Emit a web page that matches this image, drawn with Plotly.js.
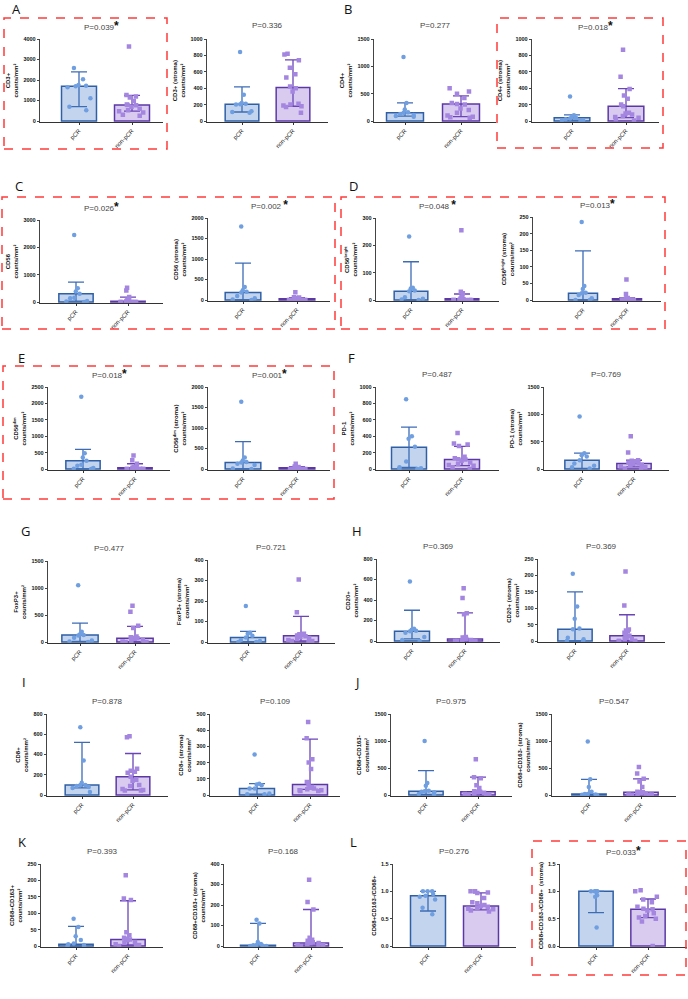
<!DOCTYPE html>
<html><head><meta charset="utf-8">
<script src="https://cdn.plot.ly/plotly-3.0.1.min.js"></script>
<style>html,body{margin:0;padding:0;background:#fff}#chart{width:688px;height:999px}</style>
</head><body><div id="chart"></div>
<script>
const groups = ['pCR', 'non-pCR'];

// ---- data. stats = [[median, q1, q3] pCR, [median, q1, q3] non-pCR]
const cd3_pcr = [2580, 2040, 1760, 1720, 1700, 1650, 1110, 700, 520];
const cd3_non = [3640, 1270, 1200, 1150, 980, 800, 780, 770, 700, 600, 530, 480, 420, 300, 250];
const cd3_stats = [[1700, 700, 2400], [780, 480, 1250]];

const cd3s_pcr = [840, 320, 220, 210, 205, 200, 120, 110, 100];
const cd3s_non = [820, 810, 740, 650, 570, 530, 420, 400, 360, 210, 200, 190, 180, 170, 100];
const cd3s_stats = [[205, 110, 415], [410, 180, 745]];

const cd4_pcr = [1170, 330, 210, 160, 150, 130, 110, 90, 80];
const cd4_non = [600, 540, 500, 420, 330, 310, 300, 230, 200, 150, 100, 80, 70, 60];
const cd4_stats = [[150, 90, 330], [310, 80, 460]];

const cd4s_pcr = [300, 70, 50, 40, 30, 20, 10, 5, 0];
const cd4s_non = [870, 540, 390, 310, 270, 200, 180, 100, 90, 80, 60, 50, 40, 20, 5];
const cd4s_stats = [[40, 10, 75], [180, 40, 395]];

const cd56_pcr = [2450, 500, 380, 300, 160, 140, 40, 20, 0];
const cd56_non = [520, 420, 180, 80, 60, 40, 30, 20, 10, 5, 0, 0, 0, 0, 0];
const cd56_stats = [[300, 30, 730], [30, 0, 180]];

const cd56s_pcr = [1790, 320, 240, 200, 180, 100, 40, 10, 0];
const cd56s_non = [190, 70, 60, 50, 40, 30, 30, 20, 10, 5, 0, 0, 0, 0, 0];
const cd56s_stats = [[180, 0, 900], [30, 0, 60]];

const cd56b_pcr = [232, 45, 42, 35, 32, 10, 5, 2, 0];
const cd56b_non = [255, 30, 25, 12, 10, 5, 5, 3, 2, 0, 0, 0, 0, 0, 0];
const cd56b_stats = [[32, 0, 140], [5, 0, 22]];

const cd56bs_pcr = [235, 42, 33, 22, 20, 15, 5, 0, 0];
const cd56bs_non = [62, 18, 6, 5, 4, 4, 3, 2, 1, 0, 0, 0, 0, 0, 0];
const cd56bs_stats = [[20, 0, 148], [4, 0, 6]];

const cd56d_pcr = [2200, 480, 350, 250, 130, 100, 30, 10, 0];
const cd56d_non = [410, 270, 160, 60, 50, 40, 40, 30, 20, 10, 5, 0, 0, 0, 0];
const cd56d_stats = [[250, 0, 600], [40, 0, 160]];

const cd56ds_pcr = [1640, 280, 210, 170, 160, 130, 100, 10, 0];
const cd56ds_non = [130, 60, 50, 40, 30, 30, 20, 10, 5, 0, 0, 0, 0, 0, 0];
const cd56ds_stats = [[160, 0, 670], [30, 0, 60]];

const pd1_pcr = [850, 400, 370, 270, 90, 20, 10, 0, 0];
const pd1_non = [440, 310, 300, 280, 150, 130, 120, 115, 100, 80, 60, 50, 40, 20, 0];
const pd1_stats = [[265, 20, 510], [115, 40, 275]];

const pd1s_pcr = [960, 290, 250, 230, 160, 100, 60, 30, 10];
const pd1s_non = [600, 300, 160, 150, 140, 120, 100, 100, 90, 80, 60, 50, 30, 10, 0];
const pd1s_stats = [[160, 10, 290], [100, 40, 160]];

const foxp3_pcr = [1050, 190, 140, 130, 120, 80, 30, 10, 0];
const foxp3_non = [670, 560, 300, 260, 100, 90, 80, 70, 60, 40, 20, 10, 0, 0, 0];
const foxp3_stats = [[130, 10, 350], [70, 0, 290]];

const foxp3s_pcr = [175, 45, 40, 30, 22, 10, 5, 0, 0];
const foxp3s_non = [305, 145, 40, 38, 35, 32, 30, 28, 25, 20, 15, 10, 5, 5, 0];
const foxp3s_stats = [[22, 0, 52], [30, 5, 125]];

const cd20_pcr = [580, 120, 110, 100, 95, 80, 40, 10, 0];
const cd20_non = [515, 420, 270, 260, 40, 35, 30, 20, 20, 10, 5, 0, 0, 0, 0];
const cd20_stats = [[95, 20, 300], [20, 0, 275]];

const cd20s_pcr = [205, 105, 68, 38, 36, 10, 5, 0, 0];
const cd20s_non = [212, 108, 35, 32, 30, 25, 20, 16, 10, 5, 5, 0, 0, 0, 0];
const cd20s_stats = [[36, 0, 150], [16, 0, 80]];

const cd8_pcr = [670, 340, 120, 100, 100, 90, 80, 70, 30];
const cd8_non = [580, 570, 260, 240, 230, 220, 180, 150, 140, 100, 90, 60, 50, 45, 45];
const cd8_stats = [[100, 70, 520], [180, 50, 410]];

const cd8s_pcr = [250, 70, 65, 60, 40, 40, 10, 5, 5];
const cd8s_non = [450, 350, 220, 200, 160, 80, 65, 50, 45, 40, 35, 30, 30, 25, 25];
const cd8s_stats = [[40, 5, 70], [65, 35, 345]];

const m1_pcr = [1000, 220, 170, 80, 70, 60, 50, 20, 10];
const m1_non = [660, 330, 310, 180, 130, 70, 60, 60, 50, 40, 30, 20, 10, 5, 5];
const m1_stats = [[70, 10, 450], [60, 10, 330]];

const m1s_pcr = [990, 290, 150, 60, 20, 20, 10, 5, 0];
const m1s_non = [520, 400, 300, 250, 150, 60, 50, 50, 40, 30, 20, 10, 10, 5, 5];
const m1s_stats = [[20, 0, 290], [50, 10, 300]];

const m2_pcr = [83, 58, 30, 18, 8, 5, 3, 0, 0];
const m2_non = [216, 145, 140, 42, 33, 25, 22, 20, 18, 12, 10, 5, 3, 0, 0];
const m2_stats = [[5, 0, 60], [20, 3, 138]];

const m2s_pcr = [128, 110, 20, 10, 5, 4, 3, 0, 0];
const m2s_non = [323, 215, 178, 40, 30, 25, 20, 18, 15, 15, 10, 5, 5, 0, 0];
const m2s_stats = [[4, 0, 110], [15, 5, 178]];

const ratio_pcr = [1.0, 1.0, 1.0, 0.95, 0.92, 0.9, 0.85, 0.7, 0.58];
const ratio_non = [1.0, 1.0, 0.98, 0.97, 0.88, 0.8, 0.78, 0.75, 0.73, 0.72, 0.7, 0.68, 0.67, 0.65, 0.63];
const ratio_stats = [[0.92, 0.64, 1.0], [0.73, 0.66, 0.97]];

const ratios_pcr = [1, 1, 1, 1, 1, 1, 0.93, 0.9, 0.34];
const ratios_non = [1.02, 1.0, 0.9, 0.85, 0.8, 0.72, 0.68, 0.67, 0.65, 0.6, 0.55, 0.52, 0.5, 0.45, 0.0];
const ratios_stats = [[1.0, 0.61, 1.0], [0.67, 0.52, 0.86]];

const pvalues = ['P=0.039', 'P=0.336', 'P=0.277', 'P=0.018', 'P=0.026', 'P=0.002 ', 'P=0.048 ', 'P=0.013',
  'P=0.018', 'P=0.001', 'P=0.487', 'P=0.769', 'P=0.477', 'P=0.721', 'P=0.369', 'P=0.369',
  'P=0.878', 'P=0.109', 'P=0.975', 'P=0.547', 'P=0.393', 'P=0.168', 'P=0.276', 'P=0.033'];
const significant = [1, 0, 0, 1, 1, 1, 1, 1, 1, 1, 0, 0, 0, 0, 0, 0, 0, 0, 0, 0, 0, 0, 0, 1];

const C2 = 'counts/mm²';
const sup = t => '<span style="font-size:4px;baseline-shift:super">' + t + '</span>';
// g = [axisLeftPx, axisRightPx, pCRcenterPx, nonCenterPx, topPx, zeroPx]
const panels = [
  {pcr: cd3_pcr, non: cd3_non, st: cd3_stats, yt: 'CD3+<br>' + C2, ymax: 4000, dtick: 1000, g: [40, 163, 79, 132, 39, 121]},
  {pcr: cd3s_pcr, non: cd3s_non, st: cd3s_stats, yt: 'CD3+ (stroma)<br>' + C2, ymax: 1000, dtick: 200, g: [207, 328, 242, 293, 39, 121]},
  {pcr: cd4_pcr, non: cd4_non, st: cd4_stats, yt: 'CD4+<br>' + C2, ymax: 1500, dtick: 500, g: [374, 496, 405, 461, 39, 121]},
  {pcr: cd4s_pcr, non: cd4s_non, st: cd4s_stats, yt: 'CD4+ (stroma)<br>' + C2, ymax: 1000, dtick: 200, g: [532, 659, 572, 626, 39, 121]},
  {pcr: cd56_pcr, non: cd56_non, st: cd56_stats, yt: 'CD56<br>' + C2, ymax: 3000, dtick: 1000, g: [40, 163, 76, 128, 220, 302]},
  {pcr: cd56s_pcr, non: cd56s_non, st: cd56s_stats, yt: 'CD56 (stroma)<br>' + C2, ymax: 2000, dtick: 500, g: [208, 330, 243, 297, 218, 300]},
  {pcr: cd56b_pcr, non: cd56b_non, st: cd56b_stats, yt: 'CD56' + sup('bright') + '<br>' + C2, ymax: 300, dtick: 100, g: [376, 499, 411, 462, 218, 300]},
  {pcr: cd56bs_pcr, non: cd56bs_non, st: cd56bs_stats, yt: 'CD56' + sup('bright') + ' (stroma)<br>' + C2, ymax: 250, dtick: 50, g: [533, 661, 583, 627, 217, 300]},
  {pcr: cd56d_pcr, non: cd56d_non, st: cd56d_stats, yt: 'CD56' + sup('dim') + '<br>' + C2, ymax: 2500, dtick: 500, g: [48, 170, 83, 135, 387, 469]},
  {pcr: cd56ds_pcr, non: cd56ds_non, st: cd56ds_stats, yt: 'CD56' + sup('dim') + ' (stroma)<br>' + C2, ymax: 2000, dtick: 500, g: [208, 330, 243, 297, 387, 469]},
  {pcr: pd1_pcr, non: pd1_non, st: pd1_stats, yt: 'PD-1<br>' + C2, ymax: 1000, dtick: 200, g: [376, 499, 409, 462, 387, 469]},
  {pcr: pd1s_pcr, non: pd1s_non, st: pd1s_stats, yt: 'PD-1 (stroma)<br>' + C2, ymax: 1500, dtick: 500, g: [544, 669, 582, 634, 387, 469]},
  {pcr: foxp3_pcr, non: foxp3_non, st: foxp3_stats, yt: 'FoxP3+<br>' + C2, ymax: 1500, dtick: 500, g: [48, 170, 80, 135, 561, 642]},
  {pcr: foxp3s_pcr, non: foxp3s_non, st: foxp3s_stats, yt: 'FoxP3+ (stroma)<br>' + C2, ymax: 400, dtick: 100, g: [208, 335, 248, 301, 560, 642]},
  {pcr: cd20_pcr, non: cd20_non, st: cd20_stats, yt: 'CD20+<br>' + C2, ymax: 800, dtick: 200, g: [377, 500, 412, 465, 559, 641]},
  {pcr: cd20s_pcr, non: cd20s_non, st: cd20s_stats, yt: 'CD20+ (stroma)<br>' + C2, ymax: 250, dtick: 50, g: [538, 665, 575, 627, 559, 641]},
  {pcr: cd8_pcr, non: cd8_non, st: cd8_stats, yt: 'CD8+<br>' + C2, ymax: 800, dtick: 200, g: [47, 168, 82, 133, 714, 795]},
  {pcr: cd8s_pcr, non: cd8s_non, st: cd8s_stats, yt: 'CD8+ (stroma)<br>' + C2, ymax: 500, dtick: 100, g: [210, 340, 257, 310, 714, 795]},
  {pcr: m1_pcr, non: m1_non, st: m1_stats, yt: 'CD68+CD163-<br>' + C2, ymax: 1500, dtick: 500, g: [391, 512, 426, 478, 714, 795]},
  {pcr: m1s_pcr, non: m1s_non, st: m1s_stats, yt: 'CD68+CD163- (stroma)<br>' + C2, ymax: 1500, dtick: 500, g: [552, 676, 589, 641, 714, 795]},
  {pcr: m2_pcr, non: m2_non, st: m2_stats, yt: 'CD68+CD163+<br>' + C2, ymax: 250, dtick: 50, g: [41, 163, 76, 128, 864, 946]},
  {pcr: m2s_pcr, non: m2s_non, st: m2s_stats, yt: 'CD68+CD163+ (stroma)<br>' + C2, ymax: 400, dtick: 100, g: [224, 343, 258, 311, 864, 946]},
  {pcr: ratio_pcr, non: ratio_non, st: ratio_stats, yt: 'CD68+CD163-/CD68+', ymax: 1.5, dtick: 0.5, fmt: '.1f', g: [393, 516, 428, 481, 864, 946]},
  {pcr: ratios_pcr, non: ratios_non, st: ratios_stats, yt: 'CD68+CD163-/CD68+  (stroma)', ymax: 1.5, dtick: 0.5, fmt: '.1f', g: [560, 687, 596, 648, 864, 946]}
];

const letters = [['A', 16, 9], ['B', 348, 9], ['C', 19, 186], ['D', 353, 186], ['E', 21, 358], ['F', 351, 358],
  ['G', 25, 531], ['H', 357, 531], ['I', 24, 682], ['J', 357, 682], ['K', 22, 842], ['L', 353, 842]];
// red dashed boxes [x0, y0, x1, y1] px
const boxes = [[4, 18, 167, 149], [497, 18, 663, 148], [2, 197, 335, 329], [341, 197, 665, 329], [3, 366, 334, 499], [532, 841, 686, 975]];

const W = 688, H = 999;
const F = 'Arial, "Liberation Sans", sans-serif';
const fill = ['#c3d4ee', '#d8cbef'];
const edge = ['#2f5fa6', '#5c38a6'];
const errc = ['#3d6cb5', '#6b45b8'];
const ptc = ['#6f9fe0', '#a486e0'];

const traces = [];
const layout = {
  width: W, height: H, margin: {l: 0, r: 0, t: 0, b: 0}, showlegend: false,
  barmode: 'overlay', boxmode: 'overlay', paper_bgcolor: '#fff', plot_bgcolor: 'rgba(0,0,0,0)',
  annotations: [], shapes: [], font: {family: F}
};

panels.forEach((P, i) => {
  const n = i + 1, sfx = n === 1 ? '' : String(n);
  const xa = 'x' + sfx, ya = 'y' + sfx;
  const [x0, x1, pc, qc, yt, yb] = P.g;
  const s = qc - pc;
  const pad = 0.015;
  const ybPx = yb + pad * (yb - yt);
  layout['xaxis' + sfx] = {
    domain: [x0 / W, x1 / W], anchor: ya, type: 'category', categoryorder: 'array', categoryarray: groups,
    range: [-(pc - x0) / s, (x1 - pc) / s], showline: true, linecolor: '#333', linewidth: 1,
    ticks: 'outside', ticklen: 2, tickcolor: '#333', tickangle: -45, showgrid: false, zeroline: false,
    tickfont: {size: 6, family: F, color: '#222'}, fixedrange: true
  };
  layout['yaxis' + sfx] = {
    domain: [1 - ybPx / H, 1 - yt / H], anchor: xa, range: [-pad * P.ymax, P.ymax], dtick: P.dtick, tick0: 0,
    tickformat: P.fmt || '', showline: true, linecolor: '#444', linewidth: 1.2, ticks: 'outside', ticklen: 2,
    tickcolor: '#444', showgrid: false, zeroline: false,
    tickfont: {size: 5.5, family: F, color: '#111', weight: 'bold'},
    title: {text: P.yt, font: {size: 6, family: F, color: '#111', weight: 'bold'}, standoff: 4}, fixedrange: true
  };
  [0, 1].forEach(k => {
    const st = P.st[k];
    traces.push({
      type: 'bar', x: [groups[k]], y: [st[0]], width: 0.66, xaxis: xa, yaxis: ya,
      marker: {color: fill[k], line: {color: edge[k], width: 1.5}},
      error_y: {type: 'data', symmetric: false, array: [st[2] - st[0]], arrayminus: [st[0] - st[1]],
        color: errc[k], thickness: 1.3, width: 8},
      hoverinfo: 'skip'
    });
  });
  [P.pcr, P.non].forEach((arr, k) => {
    traces.push({
      type: 'box', x: arr.map(() => groups[k]), y: arr, xaxis: xa, yaxis: ya,
      boxpoints: 'all', jitter: 1, pointpos: 0, width: 0.6,
      fillcolor: 'rgba(0,0,0,0)', line: {color: 'rgba(0,0,0,0)', width: 0},
      marker: {color: ptc[k], size: 4.5, symbol: k ? 'square' : 'circle'}, hoverinfo: 'skip'
    });
  });
  const star = significant[i] ? '<span style="font-size:12px;font-weight:bold;fill:#111">*</span>' : '';
  layout.annotations.push({
    xref: 'paper', yref: 'paper', x: (x0 + x1) / 2 / W, y: 1 - (yt - 13) / H, xanchor: 'center', yanchor: 'middle',
    text: pvalues[i] + star, showarrow: false, font: {size: 8, family: F, color: '#444', weight: 'normal'}
  });
});

letters.forEach(([t, x, y]) => {
  layout.annotations.push({xref: 'paper', yref: 'paper', x: x / W, y: 1 - y / H, xanchor: 'center', yanchor: 'middle',
    text: t, showarrow: false, font: {size: 13, family: '"Open Sans", "Noto Sans", sans-serif', color: '#111'}});
});
boxes.forEach(([a, b, c, d]) => {
  layout.shapes.push({type: 'rect', xref: 'paper', yref: 'paper', x0: a / W, x1: c / W, y0: 1 - d / H, y1: 1 - b / H,
    line: {color: '#ff3b3b', width: 1.5, dash: 'dash'}, fillcolor: 'rgba(0,0,0,0)', layer: 'above'});
});

Plotly.newPlot('chart', traces, layout, {staticPlot: true, displayModeBar: false});
</script></body></html>
